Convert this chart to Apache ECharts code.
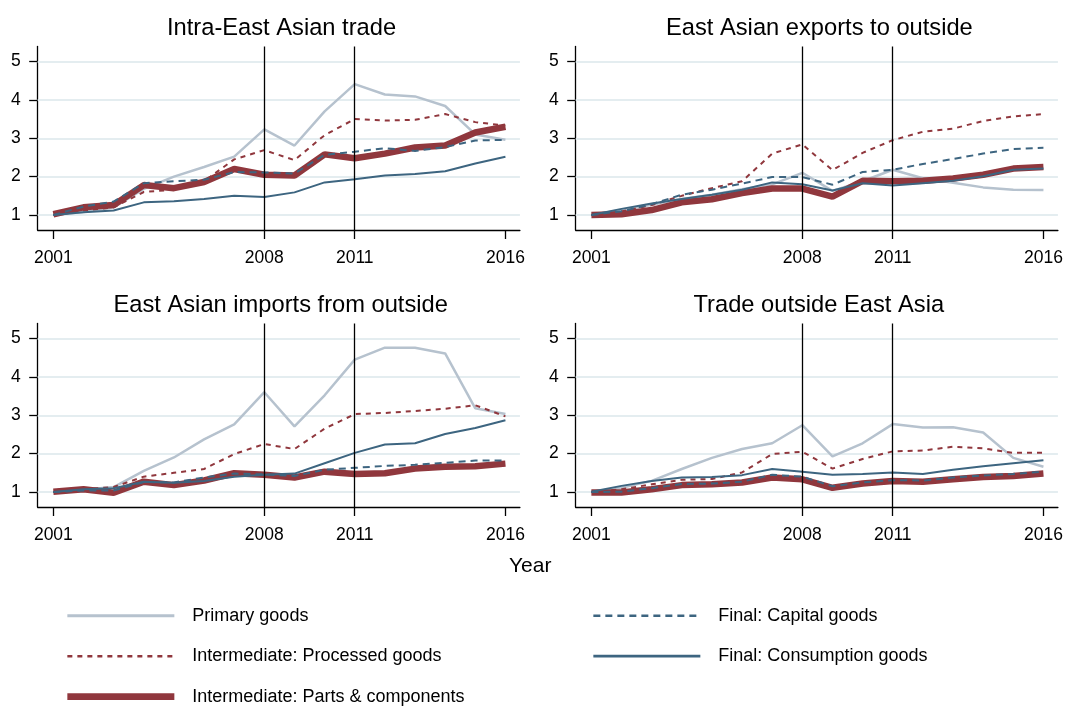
<!DOCTYPE html>
<html>
<head>
<meta charset="utf-8">
<script src="https://cdn.jsdelivr.net/npm/echarts@6/dist/echarts.min.js"></script>
<style>
  html, body { margin: 0; padding: 0; background: #fff; }
  #chart { width: 1067px; height: 709px; }
</style>
</head>
<body>
<div id="chart"></div>
<script>
const years = [2001, 2002, 2003, 2004, 2005, 2006, 2007, 2008, 2009, 2010, 2011, 2012, 2013, 2014, 2015, 2016]
const xTicks = [2001, 2008, 2011, 2016]
const yTicks = [1, 2, 3, 4, 5]
const crisisYears = [2008, 2011]

const panelTitles = ['Intra-East Asian trade', 'East Asian exports to outside',
  'East Asian imports from outside', 'Trade outside East Asia']
const goods = ['Primary goods', 'Intermediate: Processed goods', 'Intermediate: Parts & components',
  'Final: Capital goods', 'Final: Consumption goods']

// Intra-East Asian trade
const intraPrimary = [1.00, 1.08, 1.20, 1.68, 2.00, 2.25, 2.52, 3.23, 2.81, 3.70, 4.41, 4.14, 4.09, 3.84, 3.10, 2.96]
const intraProcessed = [1.00, 1.12, 1.20, 1.60, 1.66, 1.88, 2.45, 2.69, 2.43, 3.08, 3.50, 3.46, 3.48, 3.63, 3.42, 3.33]
const intraParts = [1.02, 1.20, 1.26, 1.78, 1.70, 1.86, 2.20, 2.05, 2.03, 2.58, 2.48, 2.60, 2.76, 2.81, 3.15, 3.30]
const intraCapital = [1.00, 1.22, 1.35, 1.83, 1.88, 1.92, 2.12, 2.11, 2.08, 2.57, 2.65, 2.74, 2.67, 2.77, 2.94, 2.96]
const intraConsumption = [1.00, 1.07, 1.12, 1.33, 1.36, 1.42, 1.50, 1.47, 1.59, 1.85, 1.93, 2.03, 2.07, 2.14, 2.34, 2.52]

// East Asian exports to outside
const exportPrimary = [1.00, 1.13, 1.27, 1.42, 1.53, 1.67, 1.80, 2.10, 1.63, 1.88, 2.18, 1.96, 1.84, 1.72, 1.66, 1.65]
const exportProcessed = [1.00, 1.09, 1.26, 1.50, 1.70, 1.88, 2.60, 2.84, 2.17, 2.62, 2.95, 3.17, 3.25, 3.45, 3.57, 3.63]
const exportParts = [1.00, 1.02, 1.13, 1.33, 1.41, 1.57, 1.69, 1.69, 1.48, 1.89, 1.88, 1.89, 1.95, 2.05, 2.21, 2.25]
const exportCapital = [1.00, 1.10, 1.28, 1.53, 1.66, 1.82, 1.99, 1.99, 1.79, 2.12, 2.18, 2.33, 2.46, 2.60, 2.72, 2.75]
const exportConsumption = [1.00, 1.16, 1.30, 1.42, 1.53, 1.66, 1.85, 1.80, 1.64, 1.83, 1.77, 1.83, 1.89, 2.01, 2.18, 2.21]

// East Asian imports from outside
const importPrimary = [1.00, 1.06, 1.13, 1.55, 1.90, 2.37, 2.76, 3.60, 2.71, 3.52, 4.45, 4.76, 4.76, 4.61, 3.18, 3.03]
const importProcessed = [1.00, 1.07, 1.13, 1.40, 1.50, 1.60, 1.99, 2.25, 2.12, 2.65, 3.03, 3.06, 3.11, 3.17, 3.26, 2.97]
const importParts = [1.01, 1.07, 0.98, 1.27, 1.18, 1.30, 1.49, 1.45, 1.38, 1.53, 1.47, 1.49, 1.61, 1.66, 1.67, 1.74]
const importCapital = [1.00, 1.04, 1.04, 1.26, 1.25, 1.38, 1.48, 1.46, 1.42, 1.58, 1.63, 1.68, 1.71, 1.76, 1.82, 1.82]
const importConsumption = [1.00, 1.07, 1.10, 1.27, 1.24, 1.29, 1.40, 1.45, 1.48, 1.75, 2.02, 2.24, 2.27, 2.51, 2.67, 2.87]

// Trade outside East Asia
const outsidePrimary = [1.00, 1.11, 1.29, 1.60, 1.89, 2.12, 2.27, 2.74, 1.93, 2.27, 2.77, 2.68, 2.69, 2.55, 1.89, 1.66]
const outsideProcessed = [1.00, 1.07, 1.20, 1.32, 1.34, 1.51, 1.99, 2.05, 1.61, 1.86, 2.06, 2.08, 2.18, 2.14, 2.02, 2.02]
const outsideParts = [0.99, 0.99, 1.07, 1.18, 1.20, 1.25, 1.38, 1.33, 1.11, 1.22, 1.29, 1.27, 1.33, 1.39, 1.42, 1.48]
const outsideCapital = [1.00, 1.01, 1.10, 1.21, 1.22, 1.27, 1.45, 1.40, 1.15, 1.25, 1.31, 1.30, 1.38, 1.43, 1.47, 1.53]
const outsideConsumption = [1.01, 1.16, 1.29, 1.38, 1.39, 1.44, 1.60, 1.53, 1.45, 1.47, 1.51, 1.47, 1.58, 1.67, 1.75, 1.83]

const panels = [
  [intraPrimary, intraProcessed, intraParts, intraCapital, intraConsumption],
  [exportPrimary, exportProcessed, exportParts, exportCapital, exportConsumption],
  [importPrimary, importProcessed, importParts, importCapital, importConsumption],
  [outsidePrimary, outsideProcessed, outsideParts, outsideCapital, outsideConsumption]
]

const FONT = '"Liberation Sans", Arial, Helvetica, sans-serif'
const grey = '#b6c2ce'
const red = '#90373d'
const blue = '#3d6580'
const styles = [
  {color: grey, width: 2.5, type: 'solid'},
  {color: red, width: 2, type: [5, 5]},
  {color: red, width: 6.5, type: 'solid'},
  {color: blue, width: 2, type: [7, 5]},
  {color: blue, width: 2, type: 'solid'}
]
// legend samples are drawn a bit heavier than the plot lines
const legendWidths = [3, 2.5, 6.7, 2.5, 2.7]

const gridPos = [
  {left: 37.7, top: 46.5},
  {left: 575.7, top: 46.5},
  {left: 37.7, top: 323.5},
  {left: 575.7, top: 323.5}
]
const titlePos = [
  {left: 167, top: 16.5},
  {left: 666, top: 16.5},
  {left: 113.5, top: 293.5},
  {left: 693.5, top: 293.5}
]

const grids = gridPos.map(p => ({left: p.left, top: p.top, width: 482.2, height: 183.5}))

const xAxes = gridPos.map((p, i) => ({
  type: 'value', gridIndex: i, min: 2000.48, max: 2016.48,
  axisLine: {show: true, lineStyle: {color: '#000', width: 1.3}},
  axisTick: {show: true, length: 9, customValues: xTicks, lineStyle: {color: '#000', width: 1.3}},
  axisLabel: {customValues: xTicks, margin: 19, fontSize: 17.5, color: '#000', fontFamily: FONT,
    formatter: v => String(v)},
  splitLine: {show: false}
}))

const yAxes = gridPos.map((p, i) => ({
  type: 'value', gridIndex: i, min: 0.61, max: 5.39,
  axisLine: {show: true, lineStyle: {color: '#000', width: 1.3}},
  axisTick: {show: true, length: 8.5, customValues: yTicks, lineStyle: {color: '#000', width: 1.3}},
  axisLabel: {customValues: yTicks, margin: 17, fontSize: 17.5, color: '#000', fontFamily: FONT},
  splitLine: {show: false}
}))

const series = []
panels.forEach((panel, p) => {
  panel.forEach((vals, g) => {
    const s = {
      name: goods[g],
      type: 'line',
      xAxisIndex: p,
      yAxisIndex: p,
      symbol: 'none',
      silent: true,
      lineStyle: styles[g],
      itemStyle: {color: styles[g].color},
      data: years.map((y, i) => [y, vals[i]])
    }
    if (g === 0) {
      // light horizontal grid lines
      s.markLine = {
        silent: true, symbol: ['none', 'none'], label: {show: false}, z: 1,
        lineStyle: {color: '#e4edf0', width: 2, type: 'solid'},
        data: yTicks.map(v => ({yAxis: v}))
      }
    }
    if (g === 1) {
      // vertical reference lines
      s.markLine = {
        silent: true, symbol: ['none', 'none'], label: {show: false},
        lineStyle: {color: '#000', width: 1.3, type: 'solid'},
        data: crisisYears.map(v => ({xAxis: v}))
      }
    }
    series.push(s)
  })
})

const titles = panelTitles.map((t, i) => ({
  text: t, left: titlePos[i].left, top: titlePos[i].top, padding: 0,
  textStyle: {fontSize: 23.7, fontWeight: 'normal', color: '#000', fontFamily: FONT}
}))
titles.push({
  text: 'Year', left: 509, top: 556, padding: 0,
  textStyle: {fontSize: 21, fontWeight: 'normal', color: '#000', fontFamily: FONT}
})

const legendItem = g => ({
  name: goods[g],
  itemStyle: {opacity: 0},
  lineStyle: {width: legendWidths[g]}
})

const legendBase = {
  orient: 'vertical', padding: 0, itemWidth: 107, itemHeight: 14, itemGap: 20.5,
  selectedMode: false,
  itemStyle: {opacity: 0},
  textStyle: {fontSize: 18, lineHeight: 20, color: '#000', fontFamily: FONT, padding: [0, 0, 0, 13]}
}

const chart = echarts.init(document.getElementById('chart'))
chart.setOption({
  animation: false,
  backgroundColor: '#fff',
  textStyle: {fontFamily: FONT},
  title: titles,
  grid: grids,
  xAxis: xAxes,
  yAxis: yAxes,
  legend: [
    Object.assign({}, legendBase, {left: 64, top: 605.7, data: [0, 1, 2].map(legendItem)}),
    Object.assign({}, legendBase, {left: 592, top: 605.7, data: [3, 4].map(legendItem)})
  ],
  series: series
})
</script>
</body>
</html>
